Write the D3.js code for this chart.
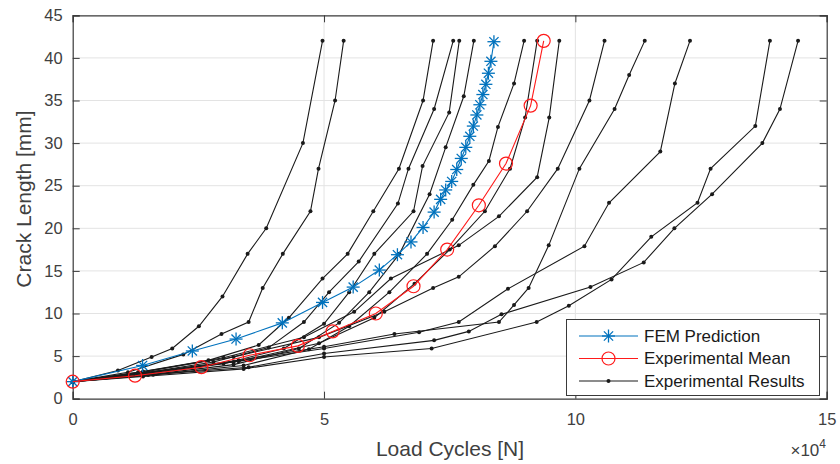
<!DOCTYPE html>
<html>
<head>
<meta charset="utf-8">
<script src="https://cdn.jsdelivr.net/npm/d3@7"></script>
<style>
  body { margin: 0; background: #fff; }
  text { font-family: "Liberation Sans", Arial, sans-serif; }
</style>
</head>
<body>
<div id="chart"></div>
<script>
// Tick labels
const xTicks = [0, 5, 10, 15];
const yTicks = [0, 5, 10, 15, 20, 25, 30, 35, 40, 45];

// FEM prediction (x in 1e4 cycles, y in mm)
const femX = [0, 1.39, 2.38, 3.25, 4.17, 4.97, 5.58, 6.10, 6.46, 6.73, 6.97, 7.19, 7.32, 7.42, 7.54, 7.64, 7.73, 7.82, 7.90, 7.97, 8.04, 8.10, 8.16, 8.22, 8.27, 8.32, 8.38];
const femY = [2, 3.9, 5.6, 7.0, 8.9, 11.3, 13.1, 15.1, 16.9, 18.4, 20.1, 21.9, 23.4, 24.5, 25.5, 26.9, 28.2, 29.5, 30.8, 32.0, 33.3, 34.5, 35.7, 36.9, 38.2, 39.6, 41.9];

// Experimental mean
const meanX = [0, 1.24, 2.56, 3.52, 4.48, 5.17, 6.03, 6.78, 7.45, 8.08, 8.62, 9.11, 9.37];
const meanY = [2, 2.7, 3.7, 5.1, 6.2, 7.9, 10.0, 13.2, 17.5, 22.7, 27.6, 34.4, 42];

// Experimental results, one [x, y] list per specimen
const spec1 = [[0,2],[0.9,3.3],[1.57,4.9],[1.98,5.9],[2.51,8.5],[2.98,12],[3.48,17],[3.85,20],[4.58,30],[4.97,42]];
const spec2 = [[0,2],[1.1,3.1],[2.2,5.2],[2.96,7.6],[3.50,9],[3.78,13],[4.18,17],[4.73,22],[4.89,27],[5.22,35],[5.39,42]];
const spec3 = [[0,2],[1.4,3.1],[2.7,4.5],[3.7,6.3],[4.3,9.5],[4.97,14.1],[5.47,17],[5.98,22],[6.49,27],[6.97,35],[7.17,42]];
const spec4 = [[0,2],[1.4,3],[2.8,4.3],[3.9,6],[4.6,9],[5.1,12.5],[5.69,16.1],[6.47,22.9],[6.68,27],[7.19,34],[7.57,42]];
const spec5 = [[0,2],[1.5,2.9],[3.0,4.1],[4.2,5.9],[5.0,8.8],[5.5,12.5],[6.0,17],[6.78,22],[6.96,27.3],[7.49,33.6],[7.69,42]];
const spec6 = [[0,2],[1.5,2.8],[3.2,4],[4.5,5.9],[5.3,8.9],[5.9,12.5],[6.5,17],[7.1,24],[7.42,29.5],[7.78,35.5],[7.98,42]];
const spec7 = [[0,2],[1.6,2.8],[3.4,3.9],[4.7,5.8],[5.5,8.5],[6.3,12.5],[7.05,17],[7.55,21],[7.97,25.1],[8.28,27.9],[8.46,31.9],[8.78,37],[8.98,42]];
const spec8 = [[0,2],[1.5,3],[3.3,4.4],[4.9,6.5],[6.0,9.5],[6.8,13.5],[7.5,17.5],[8.2,22],[8.7,27],[9.0,33],[9.24,42]];
const spec9 = [[0,2],[1.3,3.1],[3.0,4.8],[4.6,7.2],[5.6,10.2],[6.33,14.1],[7.68,18],[8.48,21.4],[9.24,26],[9.48,33],[9.68,42]];
const spec10 = [[0,2],[1.4,3.2],[3.2,4.9],[4.9,7.2],[6.2,10.2],[7.17,13],[7.68,14.3],[8.40,17.9],[9.04,22],[9.65,27],[10.28,35],[10.58,42]];
const spec11 = [[0,2],[1.5,3.1],[3.3,4.5],[5.0,6.1],[6.4,7.6],[8.48,9],[8.78,11],[9.07,13],[9.47,18],[10.08,27],[10.78,34],[11.07,38],[11.38,42]];
const spec12 = [[0,2],[1.4,3],[3.2,4.3],[5.0,5.9],[6.89,7.8],[7.68,9],[8.66,12.9],[10.18,17.9],[10.67,23],[11.69,29],[11.98,37],[12.28,42]];
const spec13 = [[0,2],[1.4,2.6],[3.4,3.5],[5.0,4.9],[7.14,5.9],[9.23,9],[9.87,10.9],[10.72,14],[11.51,19],[12.43,23],[12.69,27],[13.58,32],[13.87,42]];
const spec14 = [[0,2],[1.5,2.8],[3.5,3.7],[5.0,5.3],[7.19,6.85],[7.88,7.9],[8.53,9.9],[10.30,13.1],[11.36,16],[11.97,20],[12.72,24],[13.72,30],[14.07,34],[14.43,42]];
const specimens = [spec1, spec2, spec3, spec4, spec5, spec6, spec7, spec8, spec9, spec10, spec11, spec12, spec13, spec14];

const legendLabels = ["FEM Prediction", "Experimental Mean", "Experimental Results"];

const W = 840, H = 464;
const plot = { left: 72.7, right: 826.7, top: 15.3, bottom: 398.7 };

const svg = d3.select("#chart").append("svg")
    .attr("width", W).attr("height", H);

const x = d3.scaleLinear().domain([0, 15]).range([plot.left, plot.right]);
const y = d3.scaleLinear().domain([0, 45]).range([plot.bottom, plot.top]);

// grid
svg.append("g").selectAll("line").data(xTicks.slice(1, -1)).join("line")
    .attr("x1", d => x(d)).attr("x2", d => x(d))
    .attr("y1", plot.top).attr("y2", plot.bottom)
    .attr("stroke", "#e3e3e3").attr("stroke-width", 1);
svg.append("g").selectAll("line").data(yTicks.slice(1, -1)).join("line")
    .attr("x1", plot.left).attr("x2", plot.right)
    .attr("y1", d => y(d)).attr("y2", d => y(d))
    .attr("stroke", "#e3e3e3").attr("stroke-width", 1);

// axes with inward ticks on all four sides
const tl = 7;
const axColor = "#3a3a3a";
const axB = svg.append("g").attr("transform", `translate(0,${plot.bottom})`)
    .call(d3.axisBottom(x).tickValues(xTicks).tickSize(-tl).tickPadding(15));
const axT = svg.append("g").attr("transform", `translate(0,${plot.top})`)
    .call(d3.axisTop(x).tickValues(xTicks).tickSize(-tl).tickFormat(""));
const axL = svg.append("g").attr("transform", `translate(${plot.left},0)`)
    .call(d3.axisLeft(y).tickValues(yTicks).tickSize(-tl).tickPadding(10));
const axR = svg.append("g").attr("transform", `translate(${plot.right},0)`)
    .call(d3.axisRight(y).tickValues(yTicks).tickSize(-tl).tickFormat(""));
[axB, axT, axL, axR].forEach(a => {
    a.select(".domain").attr("stroke", axColor).attr("stroke-width", 1.2);
    a.selectAll(".tick line").attr("stroke", axColor);
    a.selectAll(".tick text").attr("fill", "#404040").style("font-size", "16.5px")
        .style("font-family", "'Liberation Sans', Arial, sans-serif");
});

const line = d3.line().x(d => x(d[0])).y(d => y(d[1]));

// experimental results
const gRes = svg.append("g");
specimens.forEach(s => {
    gRes.append("path").datum(s).attr("d", line)
        .attr("fill", "none").attr("stroke", "#1a1a1a").attr("stroke-width", 1.1);
    gRes.selectAll(null).data(s).join("circle")
        .attr("cx", d => x(d[0])).attr("cy", d => y(d[1])).attr("r", 2)
        .attr("fill", "#1a1a1a");
});

// asterisk marker
function star(g, cx, cy, r, color) {
    [0, 45, 90, 135].forEach(a => {
        const rad = a * Math.PI / 180;
        g.append("line")
            .attr("x1", cx - r * Math.cos(rad)).attr("y1", cy - r * Math.sin(rad))
            .attr("x2", cx + r * Math.cos(rad)).attr("y2", cy + r * Math.sin(rad))
            .attr("stroke", color).attr("stroke-width", 1.3);
    });
}

// FEM prediction
const femPts = femX.map((v, i) => [v, femY[i]]);
const blue = "#0072BD";
const gFem = svg.append("g");
gFem.append("path").datum(femPts).attr("d", line)
    .attr("fill", "none").attr("stroke", blue).attr("stroke-width", 1.1);
femPts.forEach(d => star(gFem, x(d[0]), y(d[1]), 6.5, blue));

// experimental mean
const meanPts = meanX.map((v, i) => [v, meanY[i]]);
const red = "#ff1a1a";
const gMean = svg.append("g");
gMean.append("path").datum(meanPts).attr("d", line)
    .attr("fill", "none").attr("stroke", red).attr("stroke-width", 1.1);
gMean.selectAll("circle").data(meanPts).join("circle")
    .attr("cx", d => x(d[0])).attr("cy", d => y(d[1])).attr("r", 6.5)
    .attr("fill", "none").attr("stroke", red).attr("stroke-width", 1.2);

// axis titles
svg.append("text").attr("x", 450).attr("y", 456).attr("text-anchor", "middle")
    .attr("fill", "#404040").style("font-size", "21px").text("Load Cycles [N]");
svg.append("text").attr("transform", "translate(31,199) rotate(-90)")
    .attr("text-anchor", "middle").attr("fill", "#404040").style("font-size", "21px")
    .text("Crack Length [mm]");
const mult = svg.append("text").attr("x", 826).attr("y", 456).attr("text-anchor", "end")
    .attr("fill", "#404040").style("font-size", "17px");
mult.append("tspan").text("\u00d710");
mult.append("tspan").attr("dy", -8).style("font-size", "12px").text("4");

// legend
const lg = svg.append("g");
lg.append("rect").attr("x", 566.5).attr("y", 319.5).attr("width", 253).attr("height", 76)
    .attr("fill", "#fff").attr("stroke", axColor).attr("stroke-width", 1);
const rows = [336, 358.5, 381];
const lx1 = 579, lx2 = 638, lmid = 608.5;
lg.append("line").attr("x1", lx1).attr("x2", lx2).attr("y1", rows[0]).attr("y2", rows[0])
    .attr("stroke", blue).attr("stroke-width", 1.1);
star(lg, lmid, rows[0], 6.5, blue);
lg.append("line").attr("x1", lx1).attr("x2", lx2).attr("y1", rows[1]).attr("y2", rows[1])
    .attr("stroke", red).attr("stroke-width", 1.1);
lg.append("circle").attr("cx", lmid).attr("cy", rows[1]).attr("r", 6.5)
    .attr("fill", "none").attr("stroke", red).attr("stroke-width", 1.2);
lg.append("line").attr("x1", lx1).attr("x2", lx2).attr("y1", rows[2]).attr("y2", rows[2])
    .attr("stroke", "#1a1a1a").attr("stroke-width", 1.1);
lg.append("circle").attr("cx", lmid).attr("cy", rows[2]).attr("r", 2).attr("fill", "#1a1a1a");
legendLabels.forEach((t, i) => {
    lg.append("text").attr("x", 644).attr("y", rows[i]).attr("dy", "0.35em")
        .attr("fill", "#1a1a1a").style("font-size", "17px").text(t);
});
</script>
</body>
</html>
